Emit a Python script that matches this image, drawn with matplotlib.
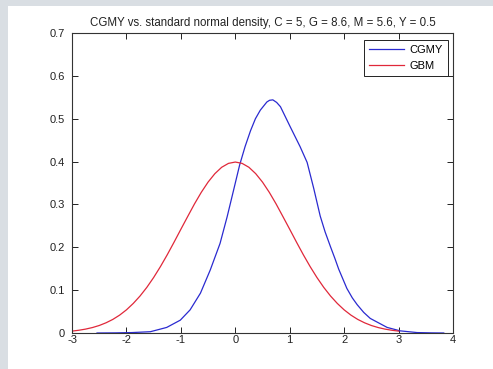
import matplotlib
matplotlib.use("Agg")
import matplotlib.pyplot as plt
from matplotlib.patches import Rectangle

# CGMY density
cgmy_x = [-2.54, -2.2, -1.9, -1.56, -1.26, -1.01, -0.83, -0.64, -0.46, -0.28,
          -0.15, -0.03, 0.08, 0.18, 0.28, 0.37, 0.46, 0.58, 0.63, 0.69, 0.76,
          0.83, 1.01, 1.19, 1.32, 1.44, 1.56, 1.65, 1.75, 1.83, 1.90, 2.05,
          2.15, 2.24, 2.36, 2.48, 2.79, 3.03, 3.34, 3.6, 3.83]
cgmy_y = [0.0, 0.0003, 0.001, 0.003, 0.013, 0.030, 0.054, 0.093, 0.147, 0.209,
          0.271, 0.334, 0.392, 0.435, 0.472, 0.500, 0.520, 0.539, 0.543, 0.544, 0.538,
          0.528, 0.481, 0.435, 0.398, 0.338, 0.273, 0.236, 0.201, 0.174, 0.149, 0.104,
          0.082, 0.066, 0.048, 0.034, 0.013, 0.005, 0.001, 0.0003, 0.0]

# standard normal (GBM) density on a 0.125 grid
gbm_x = [i * 0.125 for i in range(-24, 25)]
gbm_y = [0.0044, 0.0064, 0.0091, 0.0127, 0.0175, 0.0238, 0.0317, 0.0417,
         0.0540, 0.0689, 0.0863, 0.1065, 0.1295, 0.1550, 0.1826, 0.2119,
         0.2420, 0.2717, 0.3011, 0.3282, 0.3521, 0.3718, 0.3867, 0.3958,
         0.3989,
         0.3958, 0.3867, 0.3718, 0.3521, 0.3282, 0.3011, 0.2717, 0.2420,
         0.2119, 0.1826, 0.1550, 0.1295, 0.1065, 0.0863, 0.0689, 0.0540,
         0.0417, 0.0317, 0.0238, 0.0175, 0.0127, 0.0091, 0.0064, 0.0044]

W, H = 493, 369
plt.rcParams["font.family"] = ["Liberation Sans", "DejaVu Sans"]
plt.rcParams["axes.unicode_minus"] = False

fig = plt.figure(figsize=(W / 100, H / 100), dpi=100)
fig.patch.set_facecolor("#d9dee3")
bg = Rectangle((8 / W, 0), 1 - 8 / W, (H - 6) / H, transform=fig.transFigure,
               facecolor="white", edgecolor="none", zorder=-10)
fig.add_artist(bg)

ax = fig.add_axes([72 / W, (H - 333) / H, (453 - 72) / W, (333 - 33) / H])
ax.set_zorder(1)
ax.plot(cgmy_x, cgmy_y, color="#2a2ad0", lw=0.9, label="CGMY")
ax.plot(gbm_x, gbm_y, color="#e0283a", lw=0.9, label="GBM")

ax.set_xlim(-3, 4)
ax.set_ylim(0, 0.7)
ax.set_xticks(range(-3, 5))
ax.set_yticks([0, 0.1, 0.2, 0.3, 0.4, 0.5, 0.6, 0.7])
ax.set_yticklabels(["0", "0.1", "0.2", "0.3", "0.4", "0.5", "0.6", "0.7"])
ax.tick_params(direction="in", top=True, right=True, length=4, width=0.7,
               labelsize=8, colors="#222222")
ax.tick_params(axis="x", pad=1.5)
ax.tick_params(axis="y", pad=5)
for s in ax.spines.values():
    s.set_linewidth(0.8)
    s.set_color("#333333")

ax.set_title("CGMY vs. standard normal density, C = 5, G = 8.6, M = 5.6, Y = 0.5",
             fontsize=8.3, pad=5, color="#222222")

leg = ax.legend(loc="upper right", fontsize=8, fancybox=False, framealpha=1,
                edgecolor="#222222", borderpad=0.45, handlelength=3.2,
                handletextpad=0.5, bbox_to_anchor=(0.987, 0.977),
                labelspacing=0.55, borderaxespad=0)
leg.get_frame().set_linewidth(0.7)

fig.savefig("out.png", dpi=100)
